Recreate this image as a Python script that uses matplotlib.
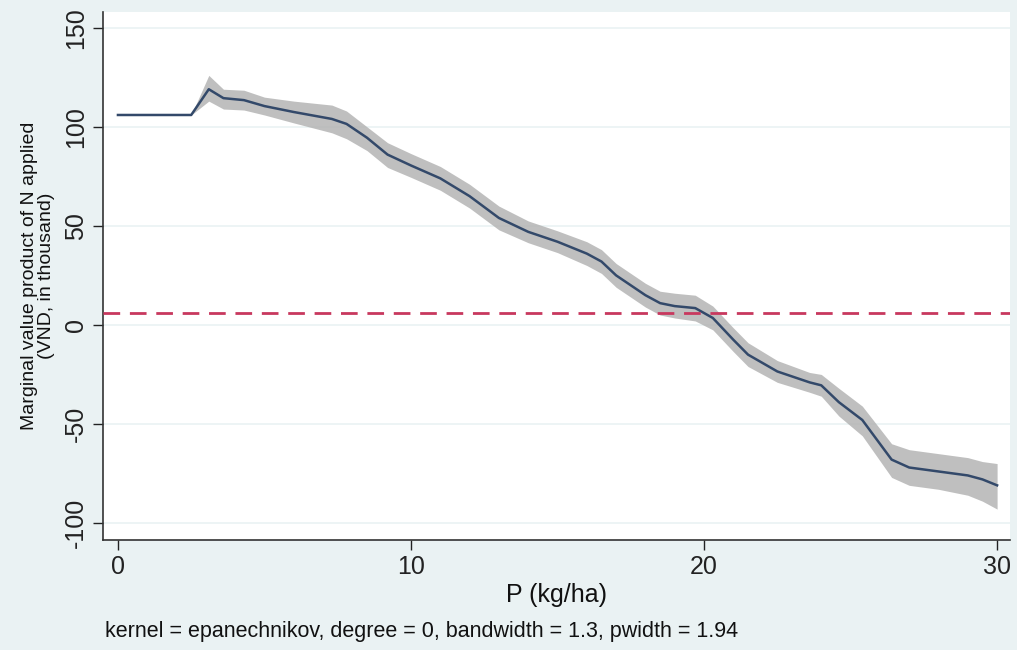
import matplotlib.pyplot as plt

# local polynomial smooth of marginal value product against P
p = [0, 2.5, 3.1, 3.6, 4.3, 5, 6, 7.3, 7.8, 8.5, 9.2, 10, 11, 12, 13, 14, 15, 16, 16.5,
     17, 18, 18.5, 19, 19.7, 20.3, 21, 21.5, 22.5, 23.6, 24, 24.6, 25.4, 26.4, 27, 28,
     29, 29.5, 30]
mvp = [106, 106, 119, 114.5, 113.5, 110.5, 107.5, 104, 101.5, 94.5, 86, 80.5, 74, 65,
       54, 47, 42, 36, 32, 25, 15, 11, 9.5, 8.5, 3.5, -7.5, -15, -23.5, -29, -30.5, -39,
       -48, -68, -72, -74, -76, -78, -81]
ci_hi = [106, 106, 126, 119, 118.5, 115, 113, 111, 108, 100, 92, 86.5, 80, 71, 60, 52.5,
         47.5, 42, 38, 31, 21, 17, 16, 15, 9.5, -1.5, -9, -18, -24, -25, -32, -41, -60,
         -63, -65, -67, -69, -70]
ci_lo = [106, 106, 113, 109, 108.5, 106, 102, 97, 94, 88, 79.5, 74.5, 68, 59, 48, 41.5,
         36.5, 30, 26, 19, 9, 5, 3.5, 2, -2.5, -13.5, -21, -29, -34, -36, -46, -56, -77,
         -81, -83, -86, -89, -93]
price_line = 6

yticks = [-100, -50, 0, 50, 100, 150]
xticks = [0, 10, 20, 30]

plt.rcParams['font.family'] = ['Liberation Sans', 'DejaVu Sans']

bg = '#eaf2f3'
fig = plt.figure(figsize=(10.17, 6.5), dpi=100, facecolor=bg)
ax = fig.add_axes([103 / 1017, 110 / 650, 907 / 1017, 528 / 650])
ax.set_facecolor('white')

for t in yticks:
    ax.axhline(t, color=bg, lw=1.2, zorder=0)

ax.fill_between(p, ci_lo, ci_hi, color='#b4b4b4', alpha=0.85, lw=0, zorder=1)
ax.plot(p, mvp, color='#33496a', lw=1.8, zorder=2)
ax.axhline(price_line, color='#c8385e', lw=2, ls=(0, (6, 3.5)), zorder=3)

ax.set_xlim(-0.51, 30.44)
ax.set_ylim(-108.6, 158)
ax.set_xticks(xticks)
ax.set_yticks(yticks)
ax.set_yticklabels([str(t) for t in yticks], rotation=90, va='center')

for s in ['top', 'right']:
    ax.spines[s].set_visible(False)
for s in ['left', 'bottom']:
    ax.spines[s].set_color('#333333')
    ax.spines[s].set_linewidth(1.2)

ax.tick_params(direction='out', length=7, width=1, colors='#222222', labelsize=18)
ax.tick_params(axis='y', pad=4)

ax.set_xlabel('P (kg/ha)', fontsize=18, color='#111111', labelpad=3)
ax.set_ylabel('Marginal value product of N applied\n(VND, in thousand)', fontsize=14,
              color='#111111', labelpad=6, linespacing=1.0)

fig.text(105 / 1017, 1 - 632 / 650, 'kernel = epanechnikov, degree = 0, bandwidth = 1.3, pwidth = 1.94',
         fontsize=15.5, color='#111111', va='center')

fig.savefig('out.png', dpi=100, facecolor=bg)
